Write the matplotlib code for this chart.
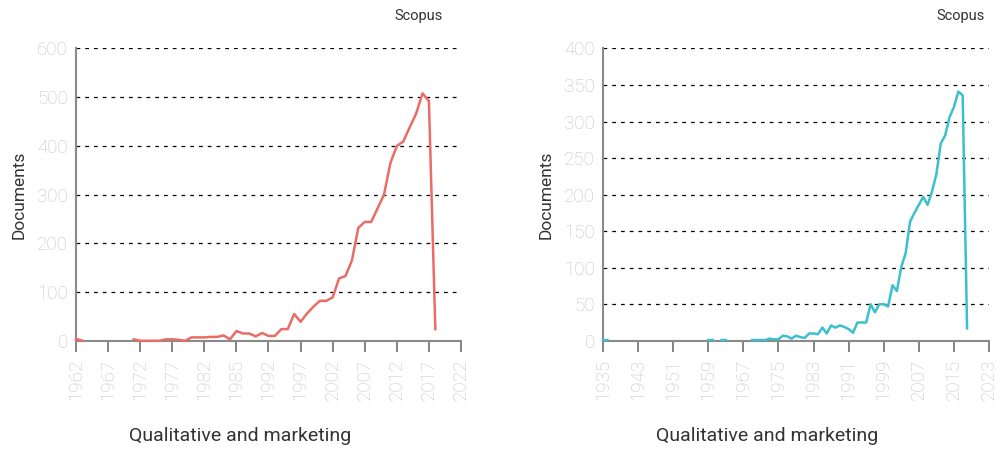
import numpy as np
import matplotlib.pyplot as plt

plt.rcParams['font.family'] = ['Roboto', 'DejaVu Sans']

nan = np.nan

# left chart: documents per year
years_left = list(range(1962, 2019))
docs_left = [4, 0, nan, nan, nan, nan, nan, nan, nan, 3,
             0, 0, 0, 0, 3, 3, 2, 0, 7, 7,
             7, 8, 8, 11, 3, 20, 15, 15, 9, 16,
             10, 10, 24, 24, 55, 39, 56, 70, 82, 82,
             89, 128, 133, 165, 232, 244, 244, 272, 300, 365,
             400, 409, 438, 466, 508, 492, 24]
ticks_left = list(range(1962, 2023, 5))
ticklabels_left = ['1962', '1967', '1972', '1977', '1982', '1985', '1992',
                   '1997', '2002', '2007', '2012', '2017', '2022']

# right chart: documents per year
years_right = list(range(1935, 2019))
docs_right = [1, 1] + [nan] * 22 + [1, 1, nan, 1, 1] + [nan] * 5 + \
             [1, 1, 1, 1, 3, 2, 2, 7, 6, 3,
              7, 5, 4, 10, 10, 9, 18, 10, 21, 18,
              21, 19, 16, 11, 25, 25, 25, 50, 39, 50,
              50, 47, 76, 68, 101, 120, 163, 175, 186, 197,
              186, 204, 228, 270, 281, 306, 320, 341, 336, 17]
ticks_right = list(range(1935, 2024, 8))
ticklabels_right = [str(t) for t in ticks_right]

fig = plt.figure(figsize=(10, 4.49), dpi=100)
ax1 = fig.add_axes([0.076, 0.241, 0.385, 0.651])
ax2 = fig.add_axes([0.603, 0.241, 0.386, 0.651])

def style(ax, ymax, ystep, xticks, xlabels, xmin, xmax):
    ax.set_xlim(xmin, xmax)
    ax.set_ylim(0, ymax)
    ax.set_yticks(np.arange(0, ymax + 1, ystep))
    ax.set_xticks(xticks)
    ax.set_xticklabels(xlabels, rotation=90)
    for y in np.arange(ystep, ymax + 1, ystep):
        ax.axhline(y, color='black', lw=0.9, ls=(0, (3, 4)), zorder=1)
    for s in ['top', 'right']:
        ax.spines[s].set_visible(False)
    for s in ['left', 'bottom']:
        ax.spines[s].set_color('#8a8a8a')
        ax.spines[s].set_linewidth(1.5)
    ax.tick_params(axis='y', length=0, pad=6, labelsize=13.5, labelcolor='#c4c4c4')
    ax.tick_params(axis='x', length=8, width=1.2, color='#707070', pad=5,
                   labelsize=13.5, labelcolor='#c4c4c4')
    for lab in ax.get_xticklabels() + ax.get_yticklabels():
        lab.set_fontweight('light')
    ax.set_ylabel('Documents', fontsize=12.5, color='#333333', labelpad=7)

ax1.plot(years_left, docs_left, color='#eb6b67', lw=1.8, zorder=3, clip_on=False)
style(ax1, 600, 100, ticks_left, ticklabels_left, 1962, 2022)

ax2.plot(years_right, docs_right, color='#3cc0cd', lw=1.8, zorder=3, clip_on=False)
style(ax2, 400, 50, ticks_right, ticklabels_right, 1935, 2023)

fig.text(0.443, 0.965, 'Scopus', ha='right', va='center', fontsize=10.5, color='#333333')
fig.text(0.985, 0.965, 'Scopus', ha='right', va='center', fontsize=10.5, color='#333333')
fig.text(0.240, 0.028, 'Qualitative and marketing', ha='center', va='center',
         fontsize=14, color='#333333')
fig.text(0.767, 0.028, 'Qualitative and marketing', ha='center', va='center',
         fontsize=14, color='#333333')

fig.savefig('out.png', dpi=100)
